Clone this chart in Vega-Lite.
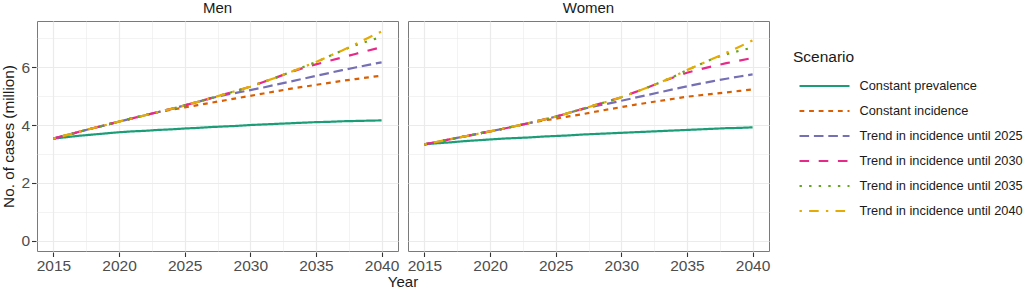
{
  "$schema": "https://vega.github.io/schema/vega-lite/v6.json",
  "padding": {"left": 1, "top": 1, "right": 0, "bottom": 0},
  "data": {"values": [
    {"sex":"Men","year":2015,"prev":3.53,"inc":3.53,"t25":3.53,"t30":3.53,"t35":3.53,"t40":3.53},
    {"sex":"Men","year":2016,"prev":3.58,"inc":3.65,"t25":3.65,"t30":3.65,"t35":3.65,"t40":3.65},
    {"sex":"Men","year":2017,"prev":3.63,"inc":3.77,"t25":3.77,"t30":3.77,"t35":3.77,"t40":3.77},
    {"sex":"Men","year":2018,"prev":3.67,"inc":3.89,"t25":3.89,"t30":3.89,"t35":3.89,"t40":3.89},
    {"sex":"Men","year":2019,"prev":3.71,"inc":4.00,"t25":4.00,"t30":4.00,"t35":4.00,"t40":4.00},
    {"sex":"Men","year":2020,"prev":3.75,"inc":4.12,"t25":4.12,"t30":4.12,"t35":4.12,"t40":4.12},
    {"sex":"Men","year":2021,"prev":3.78,"inc":4.23,"t25":4.23,"t30":4.23,"t35":4.23,"t40":4.23},
    {"sex":"Men","year":2022,"prev":3.80,"inc":4.34,"t25":4.34,"t30":4.34,"t35":4.34,"t40":4.34},
    {"sex":"Men","year":2023,"prev":3.83,"inc":4.45,"t25":4.45,"t30":4.45,"t35":4.45,"t40":4.45},
    {"sex":"Men","year":2024,"prev":3.85,"inc":4.53,"t25":4.56,"t30":4.56,"t35":4.56,"t40":4.56},
    {"sex":"Men","year":2025,"prev":3.88,"inc":4.61,"t25":4.68,"t30":4.68,"t35":4.68,"t40":4.68},
    {"sex":"Men","year":2026,"prev":3.90,"inc":4.69,"t25":4.80,"t30":4.80,"t35":4.80,"t40":4.80},
    {"sex":"Men","year":2027,"prev":3.93,"inc":4.77,"t25":4.93,"t30":4.93,"t35":4.93,"t40":4.93},
    {"sex":"Men","year":2028,"prev":3.95,"inc":4.85,"t25":5.03,"t30":5.06,"t35":5.06,"t40":5.06},
    {"sex":"Men","year":2029,"prev":3.97,"inc":4.93,"t25":5.12,"t30":5.19,"t35":5.19,"t40":5.19},
    {"sex":"Men","year":2030,"prev":4.00,"inc":5.01,"t25":5.21,"t30":5.33,"t35":5.33,"t40":5.33},
    {"sex":"Men","year":2031,"prev":4.02,"inc":5.09,"t25":5.30,"t30":5.49,"t35":5.49,"t40":5.49},
    {"sex":"Men","year":2032,"prev":4.04,"inc":5.17,"t25":5.40,"t30":5.65,"t35":5.65,"t40":5.65},
    {"sex":"Men","year":2033,"prev":4.06,"inc":5.25,"t25":5.50,"t30":5.82,"t35":5.82,"t40":5.82},
    {"sex":"Men","year":2034,"prev":4.08,"inc":5.32,"t25":5.60,"t30":5.97,"t35":6.00,"t40":6.00},
    {"sex":"Men","year":2035,"prev":4.10,"inc":5.39,"t25":5.70,"t30":6.10,"t35":6.18,"t40":6.18},
    {"sex":"Men","year":2036,"prev":4.11,"inc":5.46,"t25":5.80,"t30":6.22,"t35":6.38,"t40":6.38},
    {"sex":"Men","year":2037,"prev":4.13,"inc":5.53,"t25":5.90,"t30":6.34,"t35":6.58,"t40":6.58},
    {"sex":"Men","year":2038,"prev":4.14,"inc":5.59,"t25":5.99,"t30":6.46,"t35":6.76,"t40":6.80},
    {"sex":"Men","year":2039,"prev":4.15,"inc":5.65,"t25":6.08,"t30":6.58,"t35":6.91,"t40":7.02},
    {"sex":"Men","year":2040,"prev":4.16,"inc":5.71,"t25":6.17,"t30":6.69,"t35":7.05,"t40":7.24},
    {"sex":"Women","year":2015,"prev":3.33,"inc":3.33,"t25":3.33,"t30":3.33,"t35":3.33,"t40":3.33},
    {"sex":"Women","year":2016,"prev":3.37,"inc":3.42,"t25":3.42,"t30":3.42,"t35":3.42,"t40":3.42},
    {"sex":"Women","year":2017,"prev":3.40,"inc":3.51,"t25":3.51,"t30":3.51,"t35":3.51,"t40":3.51},
    {"sex":"Women","year":2018,"prev":3.44,"inc":3.60,"t25":3.60,"t30":3.60,"t35":3.60,"t40":3.60},
    {"sex":"Women","year":2019,"prev":3.47,"inc":3.69,"t25":3.69,"t30":3.69,"t35":3.69,"t40":3.69},
    {"sex":"Women","year":2020,"prev":3.50,"inc":3.78,"t25":3.78,"t30":3.78,"t35":3.78,"t40":3.78},
    {"sex":"Women","year":2021,"prev":3.53,"inc":3.87,"t25":3.87,"t30":3.87,"t35":3.87,"t40":3.87},
    {"sex":"Women","year":2022,"prev":3.55,"inc":3.97,"t25":3.97,"t30":3.97,"t35":3.97,"t40":3.97},
    {"sex":"Women","year":2023,"prev":3.57,"inc":4.07,"t25":4.07,"t30":4.07,"t35":4.07,"t40":4.07},
    {"sex":"Women","year":2024,"prev":3.60,"inc":4.15,"t25":4.18,"t30":4.18,"t35":4.18,"t40":4.18},
    {"sex":"Women","year":2025,"prev":3.62,"inc":4.22,"t25":4.29,"t30":4.29,"t35":4.29,"t40":4.29},
    {"sex":"Women","year":2026,"prev":3.64,"inc":4.30,"t25":4.42,"t30":4.42,"t35":4.42,"t40":4.42},
    {"sex":"Women","year":2027,"prev":3.67,"inc":4.37,"t25":4.55,"t30":4.55,"t35":4.55,"t40":4.55},
    {"sex":"Women","year":2028,"prev":3.69,"inc":4.46,"t25":4.65,"t30":4.69,"t35":4.69,"t40":4.69},
    {"sex":"Women","year":2029,"prev":3.71,"inc":4.54,"t25":4.74,"t30":4.82,"t35":4.82,"t40":4.82},
    {"sex":"Women","year":2030,"prev":3.73,"inc":4.62,"t25":4.84,"t30":4.96,"t35":4.96,"t40":4.96},
    {"sex":"Women","year":2031,"prev":3.75,"inc":4.70,"t25":4.94,"t30":5.13,"t35":5.13,"t40":5.13},
    {"sex":"Women","year":2032,"prev":3.77,"inc":4.77,"t25":5.04,"t30":5.30,"t35":5.30,"t40":5.30},
    {"sex":"Women","year":2033,"prev":3.79,"inc":4.84,"t25":5.14,"t30":5.48,"t35":5.48,"t40":5.48},
    {"sex":"Women","year":2034,"prev":3.81,"inc":4.91,"t25":5.24,"t30":5.65,"t35":5.68,"t40":5.68},
    {"sex":"Women","year":2035,"prev":3.83,"inc":4.98,"t25":5.34,"t30":5.81,"t35":5.90,"t40":5.90},
    {"sex":"Women","year":2036,"prev":3.85,"inc":5.03,"t25":5.43,"t30":5.93,"t35":6.10,"t40":6.10},
    {"sex":"Women","year":2037,"prev":3.87,"inc":5.08,"t25":5.52,"t30":6.04,"t35":6.30,"t40":6.30},
    {"sex":"Women","year":2038,"prev":3.89,"inc":5.13,"t25":5.60,"t30":6.14,"t35":6.45,"t40":6.50},
    {"sex":"Women","year":2039,"prev":3.90,"inc":5.18,"t25":5.68,"t30":6.23,"t35":6.57,"t40":6.71},
    {"sex":"Women","year":2040,"prev":3.92,"inc":5.23,"t25":5.75,"t30":6.32,"t35":6.68,"t40":6.93}
  ]},
  "transform": [
    {"fold": ["prev","inc","t25","t30","t35","t40"], "as": ["key","cases"]},
    {"lookup": "key", "from": {"data": {"values": [
      {"key":"prev","Scenario":"Constant prevalence"},
      {"key":"inc","Scenario":"Constant incidence"},
      {"key":"t25","Scenario":"Trend in incidence until 2025"},
      {"key":"t30","Scenario":"Trend in incidence until 2030"},
      {"key":"t35","Scenario":"Trend in incidence until 2035"},
      {"key":"t40","Scenario":"Trend in incidence until 2040"}
    ]}, "key": "key", "fields": ["Scenario"]}}
  ],
  "facet": {"column": {"field": "sex", "type": "nominal", "sort": ["Men","Women"], "title": "Year",
    "header": {"labelOrient": "top", "titleOrient": "bottom", "labelFontSize": 15, "labelFontWeight": "normal", "labelColor": "#1a1a1a", "labelPadding": 4,
      "titleFontSize": 15, "titleFontWeight": "normal", "titleColor": "#1a1a1a", "titlePadding": -9}}},
  "spacing": 8,
  "spec": {
    "width": 361,
    "height": 230,
    "mark": {"type": "line", "strokeWidth": 2.2, "strokeCap": "butt"},
    "encoding": {
      "x": {"field": "year", "type": "quantitative",
        "scale": {"domain": [2013.75, 2041.25], "nice": false, "zero": false},
        "axis": {"title": null, "values": [2015,2017.5,2020,2022.5,2025,2027.5,2030,2032.5,2035,2037.5,2040],
          "labelExpr": "datum.value % 5 === 0 ? format(datum.value, 'd') : ''",
          "tickOpacity": {"condition": {"test": "datum.value % 5 !== 0", "value": 0}, "value": 1},
          "gridWidth": {"condition": {"test": "datum.value % 5 !== 0", "value": 0.6}, "value": 1.2},
          "labelOverlap": false, "labelFlush": false}},
      "y": {"field": "cases", "type": "quantitative",
        "scale": {"domain": [-0.36, 7.6], "nice": false, "zero": false},
        "axis": {"title": "No. of cases (million)", "values": [0,1,2,3,4,5,6,7],
          "labelExpr": "datum.value % 2 === 0 ? format(datum.value, 'd') : ''",
          "tickOpacity": {"condition": {"test": "datum.value % 2 !== 0", "value": 0}, "value": 1},
          "gridWidth": {"condition": {"test": "datum.value % 2 !== 0", "value": 0.6}, "value": 1.2},
          "labelOverlap": false, "titlePadding": 4}},
      "color": {"field": "Scenario", "type": "nominal", "legend": {"title": "Scenario"},
        "scale": {"domain": ["Constant prevalence","Constant incidence","Trend in incidence until 2025","Trend in incidence until 2030","Trend in incidence until 2035","Trend in incidence until 2040"],
          "range": ["#1b9e77","#d95f02","#7570b3","#e7298a","#66a61e","#e6ab02"]}},
      "strokeDash": {"field": "Scenario", "type": "nominal", "legend": {"title": "Scenario"},
        "scale": {"domain": ["Constant prevalence","Constant incidence","Trend in incidence until 2025","Trend in incidence until 2030","Trend in incidence until 2035","Trend in incidence until 2040"],
          "range": [[1,0],[4.8,4.8],[9.6,4.8],[9.6,9.6],[2.4,7.2],[2.4,7.2,9.6,7.2]]}}
    }
  },
  "config": {
    "font": "Liberation Sans",
    "view": {"stroke": "#7a7a7a", "strokeWidth": 1},
    "axis": {"domain": false, "labelFontSize": 15.5, "labelColor": "#4d4d4d", "titleFontSize": 15.3, "titleFontWeight": "normal", "titleColor": "#1a1a1a",
      "tickColor": "#333333", "tickSize": 4.5, "tickWidth": 1.1, "labelPadding": 2, "gridColor": "#ebebeb"},
    "legend": {"orient": "none", "legendX": 756, "legendY": 29,
      "titleFontSize": 15.5, "titleFontWeight": "normal", "titleColor": "#1a1a1a", "titlePadding": 9,
      "labelFontSize": 12.8, "labelColor": "#1a1a1a", "labelLimit": 400, "symbolType": "M-2.5,0H2.5", "symbolSize": 400,
      "symbolStrokeWidth": 2.2, "symbolOffset": 20, "labelOffset": 23.5, "rowPadding": 6}
  }
}
